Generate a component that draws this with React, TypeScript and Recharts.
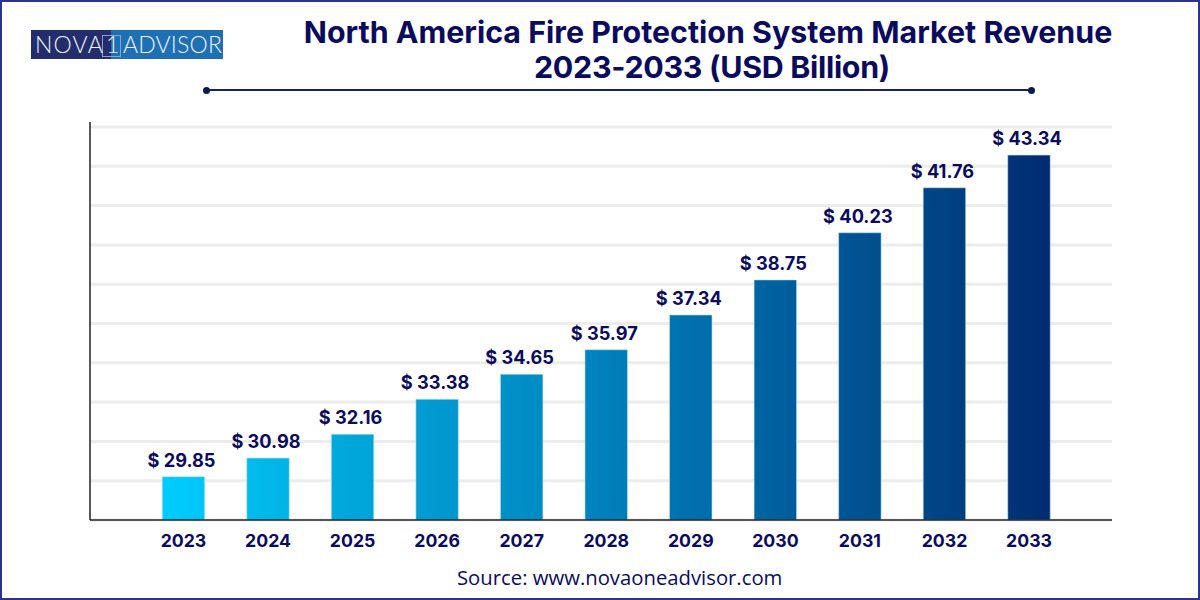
import { BarChart, Bar, XAxis, YAxis, CartesianGrid, LabelList } from "recharts";

const years = ["2023", "2024", "2025", "2026", "2027", "2028", "2029", "2030", "2031", "2032", "2033"];
// printed labels; in the picture the bar heights do not follow these linearly
const printedValues = [29.85, 30.98, 32.16, 33.38, 34.65, 35.97, 37.34, 38.75, 40.23, 41.76, 43.34];
// bar heights
const barHeights = [29.82, 30.6, 31.6, 33.07, 34.12, 35.15, 36.61, 38.08, 40.06, 41.95, 43.32];
const gridTicks = [28, 29.65, 31.3, 32.95, 34.6, 36.25, 37.9, 39.55, 41.2, 42.85, 44.5];
const barColors = ["#00ccff", "#00bcec", "#00a8dc", "#009bd0", "#008fc6", "#0080bc", "#006fae", "#005f9e", "#00508f", "#003f80", "#002b72"];

const NAVY = "#0b0b5e";
const chartData = years.map((year, i) => ({
  year,
  height: barHeights[i],
  // non-breaking space, the label would wrap to the bar width otherwise
  label: `$\u00a0${printedValues[i].toFixed(2)}`,
}));

export default function App() {
  return (
    <div style={{ position: "absolute", left: 0, top: 0, width: 1200, height: 600, background: "#fff", overflow: "hidden" }}>
      <BarChart
        width={1200}
        height={600}
        data={chartData}
        margin={{ top: 122, right: 88, bottom: 50, left: 89 }}
        barSize={42.5}
      >
        <defs>
          <linearGradient id="barFill" gradientUnits="userSpaceOnUse" x1={162} y1={0} x2={1050} y2={0}>
            {barColors.map((c, i) => (
              <stop key={c} offset={i / (barColors.length - 1)} stopColor={c} />
            ))}
          </linearGradient>
        </defs>
        <CartesianGrid vertical={false} stroke="#ececec" strokeWidth={3} syncWithTicks />
        <XAxis
          dataKey="year"
          height={30}
          padding={{ left: 51.2, right: 40.7 }}
          tickLine={false}
          axisLine={{ stroke: "#222", strokeWidth: 1.5 }}
          tick={{ fill: NAVY, fontSize: 17.7, fontWeight: 700, fontFamily: "Inter", dy: 6 }}
          interval={0}
        />
        <YAxis
          type="number"
          width={1}
          domain={[28, 44.71]}
          ticks={gridTicks}
          interval={0}
          tick={{ fontSize: 0 }}
          tickFormatter={() => ""}
          tickLine={false}
          axisLine={{ stroke: "#222", strokeWidth: 1.5 }}
          allowDataOverflow
        />
        <Bar dataKey="height" fill="url(#barFill)" stroke="#bfe6f6" strokeWidth={0.6} isAnimationActive={false}>
          <LabelList
            dataKey="label"
            position="top"
            offset={10}
            dx={-2}
            fill={NAVY}
            fontSize={18.2}
            fontWeight={700}
            fontFamily="Inter"
          />
        </Bar>
      </BarChart>

      {/* frame */}
      <div style={{ position: "absolute", inset: 0, border: "2px solid #2e3192", boxSizing: "border-box" }} />

      {/* logo */}
      <div style={{ position: "absolute", left: 31, top: 30, width: 80, height: 29, background: "#232d6b" }} />
      <div style={{ position: "absolute", left: 111, top: 30, width: 112, height: 29, background: "#1f6fb5" }} />
      <div style={{ position: "absolute", left: 102, top: 35, width: 17, height: 20, border: "1px solid #8aa0cc" }} />
      {[
        { text: "NOVA", left: 35, spacing: 1.2 },
        { text: "1", left: 106, spacing: 0 },
        { text: "ADVISOR", left: 123, spacing: 0.2 },
      ].map((t) => (
        <span
          key={t.text}
          style={{
            position: "absolute",
            left: t.left,
            top: 30,
            lineHeight: "29px",
            color: "#eef3fb",
            fontFamily: "Lato",
            fontWeight: 300,
            fontSize: 23,
            letterSpacing: t.spacing,
          }}
        >
          {t.text}
        </span>
      ))}

      {/* title */}
      <div
        style={{
          position: "absolute",
          left: 204,
          width: 1008,
          top: 15,
          textAlign: "center",
          color: NAVY,
          fontFamily: "Inter",
          fontWeight: 700,
          fontSize: 30.4,
          lineHeight: "35px",
        }}
      >
        North America Fire Protection System Market Revenue
        <br />
        <span style={{ marginLeft: 8, letterSpacing: -0.3 }}>2023-2033 (USD Billion)</span>
      </div>
      <div style={{ position: "absolute", left: 206, top: 89, width: 827, height: 2, background: "#1b1f6b" }} />
      <div style={{ position: "absolute", left: 203, top: 86.5, width: 7, height: 7, borderRadius: "50%", background: "#0b1a55" }} />
      <div style={{ position: "absolute", left: 1028, top: 86.5, width: 7, height: 7, borderRadius: "50%", background: "#0b1a55" }} />

      {/* source */}
      <div
        style={{
          position: "absolute",
          left: 457,
          top: 566,
          color: NAVY,
          fontFamily: "Open Sans",
          fontWeight: 500,
          fontSize: 20.3,
          lineHeight: "22px",
          whiteSpace: "nowrap",
        }}
      >
        Source: www.novaoneadvisor.com
      </div>
    </div>
  );
}
